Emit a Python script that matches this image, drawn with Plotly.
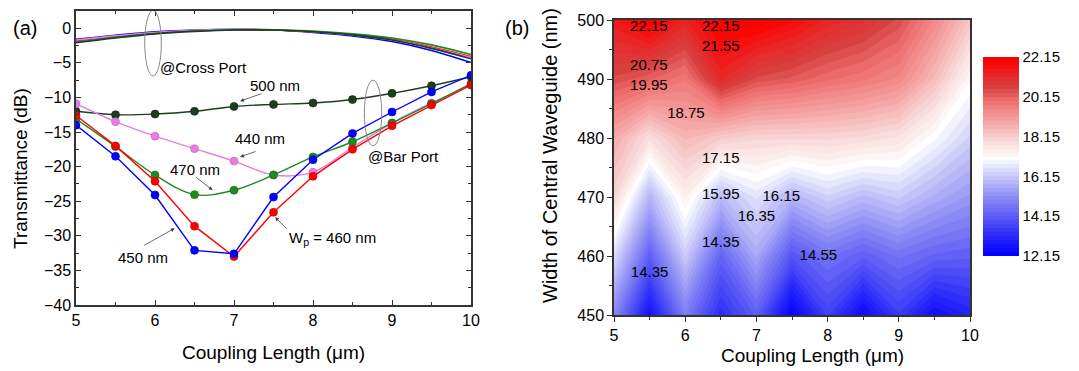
import plotly.graph_objects as go

# ---------------- data: panel (a) ----------------
coupling_len = [5, 5.5, 6, 6.5, 7, 7.5, 8, 8.5, 9, 9.5, 10]

bar_450 = [-14.0, -18.5, -24.1, -32.1, -32.6, -24.4, -19.0, -15.2, -12.1, -9.2, -6.8]
bar_460 = [-12.6, -17.0, -22.1, -28.6, -33.0, -26.6, -21.4, -17.5, -14.1, -11.1, -8.2]
bar_470 = [-13.1, -17.1, -21.2, -24.05, -23.4, -21.2, -18.6, -16.4, -13.7, -10.9, -8.0]
bar_440 = [-10.9, -13.5, -15.6, -17.4, -19.2, -21.2, -20.8, -17.2, -13.7, -10.8, -8.2]
bar_500 = [-12.0, -12.5, -12.4, -12.0, -11.3, -11.0, -10.8, -10.3, -9.4, -8.3, -7.0]

cross_450 = [-1.6, -1.0, -0.5, -0.25, -0.15, -0.25, -0.6, -1.1, -1.9, -3.2, -4.95]
cross_460 = [-1.8, -1.2, -0.7, -0.35, -0.2, -0.25, -0.5, -0.9, -1.6, -2.7, -4.1]
cross_440 = [-1.7, -1.1, -0.6, -0.3, -0.15, -0.2, -0.5, -0.95, -1.7, -2.8, -4.2]
cross_470 = [-2.0, -1.3, -0.75, -0.4, -0.2, -0.2, -0.4, -0.8, -1.4, -2.4, -3.8]
cross_500 = [-2.1, -1.4, -0.8, -0.45, -0.25, -0.25, -0.5, -0.95, -1.7, -2.9, -4.4]

# ---------------- data: panel (b) ----------------
width_nm = [450, 460, 470, 480, 490, 500]
z_grid = [
    [15.0, 12.6, 14.8, 13.2, 14.2, 12.2, 13.6, 12.4, 13.5, 12.5, 13.0],
    [16.5, 14.2, 16.2, 14.3, 15.6, 14.0, 14.6, 14.2, 14.6, 14.3, 14.2],
    [18.0, 15.8, 17.4, 15.9, 16.6, 15.8, 16.3, 15.9, 16.2, 15.7, 15.3],
    [18.8, 17.8, 18.6, 18.2, 18.0, 18.0, 18.0, 17.9, 17.7, 17.0, 16.3],
    [20.5, 20.2, 19.8, 21.2, 20.5, 20.3, 20.0, 19.8, 19.5, 18.5, 17.2],
    [21.5, 22.15, 21.3, 22.15, 22.15, 21.8, 21.3, 21.0, 20.5, 19.5, 18.3],
]
cbar_ticks = [12.15, 14.15, 16.15, 18.15, 20.15, 22.15]

label_text = ["22.15", "22.15", "21.55", "20.75", "19.95", "18.75", "17.15",
              "15.95", "16.15", "16.35", "14.35", "14.35", "14.55"]
label_x = [5.49, 6.5, 6.5, 5.49, 5.49, 6.01, 6.5, 6.5, 7.35, 7.0, 6.5, 5.5, 7.87]
label_y = [498.8, 498.8, 495.4, 492.2, 488.8, 484.1, 476.4, 470.3, 470.0, 466.6, 462.2, 457.1, 460.0]

FONT = "Liberation Sans, Arial, sans-serif"

fig = go.Figure()

# cross-port curves
cross_sets = [(cross_450, "#0000ff"), (cross_460, "#ff0000"), (cross_440, "#e57ee0"),
              (cross_470, "#1f8a1f"), (cross_500, "#1e3d1e")]
for ys, c in cross_sets:
    fig.add_trace(go.Scatter(x=coupling_len, y=ys, mode="lines",
                             line=dict(color=c, width=1.6, shape="spline"),
                             xaxis="x", yaxis="y", showlegend=False))

bar_sets = [(bar_500, "#1e3d1e", "#0f200f", "spline"), (bar_440, "#e57ee0", "#c060bb", "spline"),
            (bar_470, "#1f8a1f", "#146414", "spline"), (bar_460, "#ff0000", "#c00000", "linear"),
            (bar_450, "#0000ff", "#0000b8", "linear")]
for ys, c, edge, sh in bar_sets:
    fig.add_trace(go.Scatter(x=coupling_len, y=ys, mode="lines+markers",
                             line=dict(color=c, width=1.4, shape=sh),
                             marker=dict(color=c, size=8, line=dict(color=edge, width=0.6)),
                             xaxis="x", yaxis="y", showlegend=False))

colorscale = [
    [0.0, "rgb(0,0,255)"],
    [0.1, "rgb(40,40,250)"],
    [0.2, "rgb(90,90,245)"],
    [0.3, "rgb(140,140,245)"],
    [0.4, "rgb(195,195,248)"],
    [0.5, "rgb(255,255,255)"],
    [0.6, "rgb(248,212,212)"],
    [0.7, "rgb(245,160,160)"],
    [0.8, "rgb(238,110,110)"],
    [0.865, "rgb(215,65,65)"],
    [0.935, "rgb(235,35,35)"],
    [1.0, "rgb(255,0,0)"],
]

fig.add_trace(go.Contour(
    x=coupling_len, y=width_nm, z=z_grid,
    xaxis="x2", yaxis="y2",
    colorscale=colorscale, zmin=12.15, zmax=22.15, autocontour=False,
    contours=dict(start=12.15, end=22.15, size=0.2, coloring="fill", showlines=False),
    line=dict(width=0, smoothing=0),
    colorbar=dict(
        x=983 / 1079, xanchor="left", y=1 - 156.5 / 371, yanchor="middle",
        lenmode="pixels", len=199, thickness=36, thicknessmode="pixels",
        xpad=0, ypad=0, outlinewidth=0,
        tickmode="array", tickvals=cbar_ticks, ticktext=[f"{v:.2f}" for v in cbar_ticks],
        ticks="", ticklabelposition="outside",
        tickfont=dict(family=FONT, size=15, color="black"),
    ),
    showscale=True,
))

fig.add_trace(go.Scatter(x=label_x, y=label_y, mode="text", text=label_text,
                         textfont=dict(family=FONT, size=15, color="black"),
                         xaxis="x2", yaxis="y2", showlegend=False, hoverinfo="skip"))

axis_line = "#333333"
common = dict(showline=True, linecolor=axis_line, linewidth=1.5, showgrid=False, zeroline=False,
              automargin=False,
              tickfont=dict(family=FONT, size=16, color="black"), tickcolor=axis_line)

fig.update_layout(
    template="none",
    font=dict(family=FONT, color="black"),
    width=1079, height=371, margin=dict(l=0, r=0, t=0, b=0, autoexpand=False),
    paper_bgcolor="white", plot_bgcolor="white",
    xaxis=dict(domain=[76 / 1079, 471 / 1079], range=[5, 10], dtick=1, ticks="inside",
               ticklen=5, mirror="ticks", anchor="y",
               minor=dict(dtick=0.5, ticks="inside", ticklen=3, tickcolor=axis_line), **common),
    yaxis=dict(domain=[1 - 305 / 371, 1 - 11 / 371], range=[-40, 2.5], dtick=5, ticks="inside",
               ticklen=5, mirror="ticks", anchor="x",
               minor=dict(dtick=2.5, ticks="inside", ticklen=3, tickcolor=axis_line), **common),
    xaxis2=dict(domain=[614 / 1079, 970 / 1079], range=[5, 10], dtick=1, ticks="outside",
                ticklen=5, mirror=True, anchor="y2",
                minor=dict(dtick=0.5, ticks="outside", ticklen=3, tickcolor=axis_line), **common),
    yaxis2=dict(domain=[1 - 315 / 371, 1 - 20 / 371], range=[450, 500], dtick=10, ticks="outside",
                ticklen=5, mirror=True, anchor="x2",
                minor=dict(dtick=5, ticks="outside", ticklen=3, tickcolor=axis_line), **common),
)

# ellipses
fig.add_shape(type="circle", xref="x", yref="y", x0=5.87, x1=6.08, y0=-6.9, y1=2.6,
              line=dict(color="#888888", width=1))
fig.add_shape(type="circle", xref="x", yref="y", x0=8.65, x1=8.87, y0=-17.0, y1=-7.5,
              line=dict(color="#888888", width=1))

ann_font = dict(family=FONT, size=15, color="black")
arrows = [(7.076, -10.53, 23, -8), (7.076, -18.6, 17, -6), (6.73, -23.4, -18, -14),
          (6.25, -28.9, -32, 18), (7.52, -27.3, 13, 13)]
for hx, hy, ax, ay in arrows:
    fig.add_annotation(x=hx, y=hy, xref="x", yref="y", ax=ax, ay=ay, text="",
                       showarrow=True, arrowhead=2, arrowsize=1, arrowwidth=0.8,
                       arrowcolor="#444444")

texts = [("500 nm", 7.52, -8.2), ("440 nm", 7.33, -16.0), ("470 nm", 6.506, -20.35),
         ("450 nm", 5.85, -33.2), ("W<sub>p</sub> = 460 nm", 8.25, -30.45),
         ("@Cross Port", 6.62, -5.63), ("@Bar Port", 9.14, -18.47)]
for t, tx, ty in texts:
    fig.add_annotation(x=tx, y=ty, xref="x", yref="y", text=t, showarrow=False, font=ann_font,
                       xanchor="center", yanchor="middle")

paper_texts = [
    ("Transmittance (dB)", 20, 169, -90, 19),
    ("Coupling Length (μm)", 273, 352, 0, 19),
    ("Width of Central Waveguide (nm)", 550, 156, -90, 20),
    ("Coupling Length (μm)", 812, 355, 0, 19),
    ("(a)", 25, 28, 0, 20),
    ("(b)", 517, 28, 0, 20),
]
for t, px, py, ang, fs in paper_texts:
    fig.add_annotation(x=px / 1079, y=1 - py / 371, xref="paper", yref="paper", text=t,
                       textangle=ang, showarrow=False,
                       font=dict(family=FONT, size=fs, color="black"),
                       xanchor="center", yanchor="middle")

fig.write_html("out.html")
